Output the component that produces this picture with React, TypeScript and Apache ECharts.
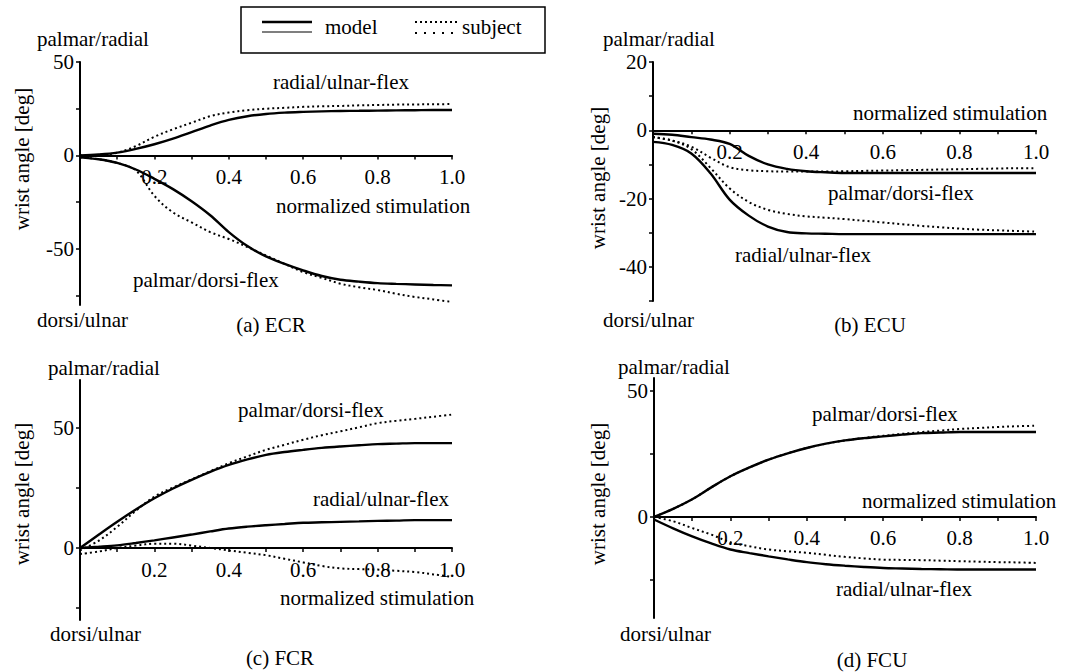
import React, { useEffect, useRef } from "react";
import * as echarts from "echarts";

// Normalized stimulation samples shared by every curve
const X = [0, 0.05, 0.1, 0.15, 0.2, 0.25, 0.3, 0.35, 0.4, 0.45, 0.5, 0.55, 0.6, 0.65, 0.7, 0.75, 0.8, 0.85, 0.9, 0.95, 1.0];

// (a) ECR
const ecrRadModel = [0, 0.5, 1.5, 3.5, 6, 9, 12.5, 16, 19, 21, 22.2, 22.9, 23.3, 23.6, 23.8, 23.9, 24, 24.1, 24.2, 24.3, 24.3];
const ecrRadSubject = [0, 0.3, 1.5, 5, 10, 14, 17.5, 21, 23, 24.2, 25, 25.5, 26, 26.3, 26.5, 26.8, 27, 27.2, 27.3, 27.4, 27.5];
const ecrPalModel = [-1, -2, -4, -7.5, -12.5, -18, -24.5, -32, -41, -48.5, -54, -58, -61.5, -64.5, -66.5, -67.5, -68.3, -68.7, -69, -69.3, -69.5];
const ecrPalSubject = [-1, -2, -4, -8, -21.6, -30.5, -35.8, -41, -44.7, -49, -53.5, -58, -62.4, -65.5, -68.6, -70.5, -72, -74, -75.7, -77, -78.4];

// (b) ECU
const ecuPalModel = [-1, -1.3, -2, -2.7, -4, -7.5, -10, -11.3, -12, -12.3, -12.5, -12.5, -12.5, -12.5, -12.5, -12.5, -12.5, -12.5, -12.5, -12.5, -12.5];
const ecuPalSubject = [-2, -3, -4.8, -8, -10.8, -11.7, -12, -12.1, -12.1, -12.1, -12, -11.9, -11.8, -11.7, -11.6, -11.5, -11.4, -11.3, -11.2, -11.1, -11.1];
const ecuRadModel = [-3.4, -4.3, -6.8, -12.6, -20.3, -25, -28.2, -29.8, -30.2, -30.3, -30.4, -30.4, -30.4, -30.4, -30.4, -30.4, -30.4, -30.4, -30.4, -30.4, -30.4];
const ecuRadSubject = [-2, -3, -5.5, -11, -17, -21, -23.3, -24.5, -25.2, -25.6, -26, -26.5, -27, -27.5, -28, -28.4, -28.8, -29.1, -29.3, -29.5, -29.7];

// (c) FCR
const fcrPalModel = [0, 5.5, 10.9, 16, 20.7, 24.8, 28.4, 31.7, 34.6, 36.9, 38.8, 40, 40.9, 41.7, 42.3, 42.8, 43.3, 43.5, 43.7, 43.7, 43.7];
const fcrPalSubject = [-1, 3, 8.8, 15.5, 21.4, 25.2, 28.6, 32, 35.3, 38.2, 40.9, 43, 45.1, 47, 48.6, 50.3, 52, 53, 53.8, 54.7, 55.6];
const fcrRadModel = [0, 0.5, 1.1, 2.1, 3.2, 4.4, 5.6, 6.9, 8.1, 8.9, 9.5, 10, 10.5, 10.7, 10.9, 11.1, 11.3, 11.4, 11.6, 11.6, 11.6];
const fcrRadSubject = [-2.5, -1.5, 0, 1, 1.8, 1.8, 1, 0, -1, -2, -3, -4.5, -6, -7.5, -8.5, -8.8, -9, -9.5, -10, -11, -12];

// (d) FCU
const fcuPalModel = [0, 3.2, 7, 11.7, 16.1, 19.6, 22.7, 25.2, 27.3, 29, 30.3, 31.2, 31.9, 32.6, 33.2, 33.4, 33.6, 33.6, 33.6, 33.6, 33.6];
const fcuPalSubject = [0, 3.2, 7, 11.7, 16.1, 19.6, 22.7, 25.2, 27.3, 29, 30.3, 31.3, 32.1, 32.9, 33.6, 34.2, 34.8, 35.2, 35.6, 35.9, 36.1];
const fcuRadModel = [-1, -4.5, -7.7, -10.5, -12.9, -14.3, -15.6, -16.8, -17.9, -18.7, -19.3, -19.8, -20.2, -20.4, -20.6, -20.7, -20.8, -20.8, -20.8, -20.8, -20.8];
const fcuRadSubject = [0, -1.7, -4.4, -7, -10, -11.6, -12.9, -13.6, -14.2, -15, -15.8, -16.4, -16.9, -17, -17.1, -17.3, -17.5, -17.7, -17.9, -18, -18.2];

// Axis ticks and labels
const xTicks = [0.1, 0.2, 0.3, 0.4, 0.5, 0.6, 0.7, 0.8, 0.9, 1.0];
const xLabels = [0.2, 0.4, 0.6, 0.8, 1.0];
const yRanges = [
  { min: -80, max: 50, ticks: [-75, -50, -25, 0, 25, 50], labels: [-50, 0, 50] },
  { min: -50, max: 20, ticks: [-50, -40, -30, -20, -10, 0, 10, 20], labels: [-40, -20, 0, 20] },
  { min: -30, max: 70, ticks: [-25, 0, 25, 50], labels: [0, 50] },
  { min: -40, max: 55, ticks: [-25, 0, 25, 50], labels: [0, 50] },
];

const panelSeries = [
  [ecrRadModel, ecrRadSubject, ecrPalModel, ecrPalSubject],
  [ecuPalModel, ecuPalSubject, ecuRadModel, ecuRadSubject],
  [fcrPalModel, fcrPalSubject, fcrRadModel, fcrRadSubject],
  [fcuPalModel, fcuPalSubject, fcuRadModel, fcuRadSubject],
];

const FONT = "Liberation Serif";
const FS = 21;

const grids = [
  { left: 80, top: 62, width: 372, height: 243 },
  { left: 653, top: 62, width: 383, height: 239 },
  { left: 80, top: 380, width: 372, height: 240 },
  { left: 654, top: 378, width: 382, height: 240 },
];

type Txt = { t: string; x: number; y: number; align?: string; rot?: boolean };

const texts: Txt[] = [
  // (a)
  { t: "palmar/radial", x: 37, y: 39 },
  { t: "wrist angle [deg]", x: 22, y: 159, align: "center", rot: true },
  { t: "radial/ulnar-flex", x: 273, y: 82 },
  { t: "normalized stimulation", x: 276, y: 206 },
  { t: "palmar/dorsi-flex", x: 133, y: 280 },
  { t: "dorsi/ulnar", x: 37, y: 320 },
  { t: "(a) ECR", x: 271, y: 325, align: "center" },
  // (b)
  { t: "palmar/radial", x: 603, y: 39 },
  { t: "wrist angle [deg]", x: 598, y: 178, align: "center", rot: true },
  { t: "normalized stimulation", x: 853, y: 113 },
  { t: "palmar/dorsi-flex", x: 828, y: 193 },
  { t: "radial/ulnar-flex", x: 735, y: 255 },
  { t: "dorsi/ulnar", x: 603, y: 320 },
  { t: "(b) ECU", x: 870, y: 325, align: "center" },
  // (c)
  { t: "palmar/radial", x: 48, y: 368 },
  { t: "wrist angle [deg]", x: 22, y: 494, align: "center", rot: true },
  { t: "palmar/dorsi-flex", x: 238, y: 410 },
  { t: "radial/ulnar-flex", x: 313, y: 499 },
  { t: "normalized stimulation", x: 280, y: 598 },
  { t: "dorsi/ulnar", x: 50, y: 634 },
  { t: "(c) FCR", x: 280, y: 658, align: "center" },
  // (d)
  { t: "palmar/radial", x: 618, y: 367 },
  { t: "wrist angle [deg]", x: 598, y: 494, align: "center", rot: true },
  { t: "palmar/dorsi-flex", x: 812, y: 414 },
  { t: "normalized stimulation", x: 862, y: 501 },
  { t: "radial/ulnar-flex", x: 836, y: 589 },
  { t: "dorsi/ulnar", x: 620, y: 634 },
  { t: "(d) FCU", x: 872, y: 660, align: "center" },
  // legend
  { t: "model", x: 325, y: 27 },
  { t: "subject", x: 462, y: 27 },
];

export default function App() {
  const ref = useRef<HTMLDivElement>(null);

  useEffect(() => {
    if (!ref.current) return;
    const chart = echarts.init(ref.current, undefined, { renderer: "svg" });

    // x axes sit on the zero line of each panel: shift them up from the grid bottom
    const xAxis = grids.map((g, i) => {
      const r = yRanges[i];
      const lift = (g.height * (0 - r.min)) / (r.max - r.min);
      return {
        type: "value",
        gridIndex: i,
        position: "bottom",
        offset: -lift,
        min: 0,
        max: 1,
        axisLine: { onZero: false, lineStyle: { color: "#000", width: 2 } },
        axisTick: { show: true, length: 4, customValues: xTicks, lineStyle: { color: "#000", width: 1.5 } },
        axisLabel: {
          customValues: xLabels,
          formatter: (v: number) => v.toFixed(1),
          color: "#000",
          fontFamily: FONT,
          fontSize: FS,
          margin: 11,
        },
        splitLine: { show: false },
      };
    });

    const yAxis = yRanges.map((r, i) => ({
      type: "value",
      gridIndex: i,
      min: r.min,
      max: r.max,
      axisLine: { onZero: false, lineStyle: { color: "#000", width: 2 } },
      axisTick: { show: true, length: 4, customValues: r.ticks, lineStyle: { color: "#000", width: 1.5 } },
      axisLabel: {
        customValues: r.labels,
        formatter: (v: number) => String(v),
        color: "#000",
        fontFamily: FONT,
        fontSize: FS,
        margin: 6,
      },
      splitLine: { show: false },
    }));

    const series: any[] = [];
    panelSeries.forEach((group, p) => {
      group.forEach((vals, k) => {
        const subject = k % 2 === 1;
        series.push({
          type: "line",
          xAxisIndex: p,
          yAxisIndex: p,
          data: X.map((x, i) => [x, vals[i]]),
          smooth: 0.35,
          showSymbol: false,
          silent: true,
          lineStyle: {
            color: "#000",
            width: subject ? 2 : 2.4,
            type: subject ? [2, 3] : "solid",
          },
        });
      });
    });

    const graphic: any[] = texts.map((t) => ({
      type: "text",
      x: t.x,
      y: t.y,
      rotation: t.rot ? Math.PI / 2 : 0,
      silent: true,
      style: {
        text: t.t,
        fill: "#000",
        fontFamily: FONT,
        fontSize: FS,
        textAlign: t.align || "left",
        textVerticalAlign: "middle",
      },
    }));

    // legend frame and samples
    graphic.push(
      { type: "rect", shape: { x: 241, y: 7, width: 304, height: 46 }, style: { fill: "none", stroke: "#000", lineWidth: 1.5 } },
      { type: "line", shape: { x1: 262, y1: 22, x2: 312, y2: 22 }, style: { stroke: "#000", lineWidth: 2.5 } },
      { type: "line", shape: { x1: 262, y1: 32, x2: 312, y2: 32 }, style: { stroke: "#000", lineWidth: 1.2 } },
      { type: "line", shape: { x1: 415, y1: 22, x2: 457, y2: 22 }, style: { stroke: "#000", lineWidth: 1.8, lineDash: [2, 3] } },
      { type: "line", shape: { x1: 415, y1: 33, x2: 457, y2: 33 }, style: { stroke: "#000", lineWidth: 1.8, lineDash: [2, 7] } }
    );

    chart.setOption({
      animation: false,
      backgroundColor: "#fff",
      grid: grids.map((g) => ({ ...g, containLabel: false, outerBoundsMode: "none" })),
      xAxis,
      yAxis,
      series,
      graphic,
    });

    return () => chart.dispose();
  }, []);

  return (
    <div
      ref={ref}
      style={{ position: "absolute", left: 0, top: 0, width: 1086, height: 672, background: "#fff" }}
    />
  );
}
